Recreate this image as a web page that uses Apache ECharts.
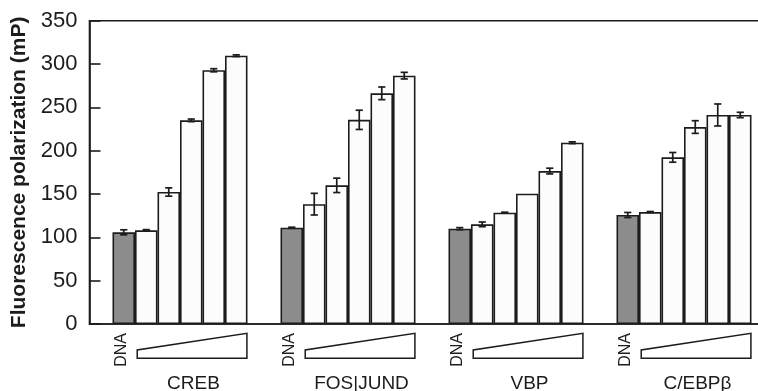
<!DOCTYPE html>
<html>
<head>
<meta charset="utf-8">
<script src="https://cdn.jsdelivr.net/npm/echarts@6/dist/echarts.min.js"></script>
<style>html,body{margin:0;padding:0;background:#fff}#c{width:758px;height:391px}</style>
</head>
<body>
<div id="c"></div>
<script>
// ---- data ----
const categories = ['CREB', 'FOS|JUND', 'VBP', 'C/EBPβ'];
const dnaValues = [105.8, 111.1, 110.0, 125.8];
const dnaErrors = [2.9, 0.6, 1.2, 2.9];
const conc1Values = [108.1, 138.3, 115.0, 129.2];
const conc1Errors = [0.8, 12.5, 2.7, 0.6];
const conc2Values = [152.3, 160.0, 128.5, 192.3];
const conc2Errors = [4.8, 8.3, 0.5, 5.6];
const conc3Values = [235.0, 235.6, 150.4, 227.3];
const conc3Errors = [1.5, 11.1, 0, 7.3];
const conc4Values = [292.8, 266.2, 176.5, 241.2];
const conc4Errors = [1.8, 7.3, 3.3, 12.7];
const conc5Values = [309.6, 286.6, 209.2, 241.2];
const conc5Errors = [1.0, 3.8, 1.0, 3.1];
const yMin = 0, yMax = 350, yStep = 50;
const yTitle = 'Fluorescence polarization (mP)';
const dnaLabel = 'DNA';

// ---- layout (fractions of a category band) ----
const BAR = 22.5 / 168;
const SPACER = 13 / 168;
const MARGIN = (1 - SPACER - 6 * BAR) / 2;

const allValues = [dnaValues, conc1Values, conc2Values, conc3Values, conc4Values, conc5Values];
const allErrors = [dnaErrors, conc1Errors, conc2Errors, conc3Errors, conc4Errors, conc5Errors];

const errData = [];
allValues.forEach((vals, s) => vals.forEach((v, c) => errData.push([c, s, v, allErrors[s][c]])));

const FONT = '"Liberation Sans", Arial, Helvetica, sans-serif';
const INK = '#1c1c1c';

const barStyle = (fill) => ({ color: fill, borderColor: INK, borderWidth: 1.6 });

const series = [{
  type: 'bar', name: 'spacer', data: categories.map(() => 0), barWidth: (SPACER * 100) + '%',
  barGap: '0%', itemStyle: { color: 'transparent', borderWidth: 0 }, silent: true
}, {
  type: 'bar', name: 'DNA', data: dnaValues, barWidth: (BAR * 100) + '%', barGap: '0%',
  itemStyle: barStyle('#8c8c8c'),
  label: {
    show: true, formatter: dnaLabel, position: ['50%', '100%'], rotate: 90,
    align: 'right', verticalAlign: 'middle', offset: [-9, -2],
    fontSize: 16, fontFamily: FONT, color: INK
  }
}];
[conc1Values, conc2Values, conc3Values, conc4Values, conc5Values].forEach((vals, i) => {
  series.push({
    type: 'bar', name: 'c' + (i + 1), data: vals, barWidth: (BAR * 100) + '%', barGap: '0%',
    itemStyle: barStyle('#fcfcfc')
  });
});

series.push({
  type: 'custom', name: 'err', data: errData, encode: { x: 0, y: 2 }, z: 5, clip: false,
  renderItem: function (params, api) {
    const c = api.value(0), s = api.value(1), v = api.value(2), e = api.value(3);
    const base = api.coord([c, 0]);
    const bw = api.size([1, 0])[0];
    const x = base[0] - bw / 2 + (MARGIN + SPACER + (s + 0.5) * BAR) * bw;
    if (!e) return null;
    const y1 = api.coord([c, v + e])[1];
    const y2 = api.coord([c, v - e])[1];
    const cap = 3.6;
    const st = { stroke: INK, lineWidth: 1.7 };
    return {
      type: 'group', children: [
        { type: 'line', shape: { x1: x, y1: y1, x2: x, y2: y2 }, style: st },
        { type: 'line', shape: { x1: x - cap, y1: y1, x2: x + cap, y2: y1 }, style: st },
        { type: 'line', shape: { x1: x - cap, y1: y2, x2: x + cap, y2: y2 }, style: st }
      ]
    };
  }
});

series.push({
  type: 'custom', name: 'wedge', data: categories.map((_, i) => [i, 0]), encode: { x: 0, y: 1 },
  clip: false, silent: true,
  renderItem: function (params, api) {
    const c = api.value(0);
    const base = api.coord([c, 0]);
    const bw = api.size([1, 0])[0];
    const x0 = base[0] - bw / 2;
    const y0 = base[1];
    const xl = x0 + 0.284 * bw, xr = x0 + 0.937 * bw;
    return {
      type: 'polygon',
      shape: { points: [[xl, y0 + 34.3], [xr, y0 + 34.3], [xr, y0 + 9.3], [xl, y0 + 26]] },
      style: { fill: '#fff', stroke: INK, lineWidth: 1.5 }
    };
  }
});

const chart = echarts.init(document.getElementById('c'), null, { renderer: 'canvas' });
chart.setOption({
  animation: false,
  backgroundColor: '#fff',
  textStyle: { fontFamily: FONT },
  grid: {
    left: 89.5, top: 20.7, right: -3.5, bottom: 67, show: true,
    containLabel: false, outerBoundsMode: 'none',
    borderColor: INK, borderWidth: 1.6, backgroundColor: 'transparent'
  },
  xAxis: {
    type: 'category', data: categories,
    axisLine: { show: true, lineStyle: { color: INK, width: 1.6 } },
    axisTick: { show: false },
    axisLabel: {
      fontSize: 19, color: INK, fontFamily: FONT, margin: 50,
      padding: [0, 0, 0, 40], interval: 0
    },
    splitLine: { show: false }
  },
  yAxis: {
    type: 'value', min: yMin, max: yMax, interval: yStep,
    name: yTitle, nameLocation: 'middle', nameGap: 52,
    nameTextStyle: { fontSize: 21, fontWeight: 'bold', color: INK, fontFamily: FONT },
    axisLine: { show: true, lineStyle: { color: INK, width: 1.6 } },
    axisTick: { show: true, inside: true, length: 11, lineStyle: { color: INK, width: 1.6 } },
    axisLabel: { fontSize: 22, color: INK, margin: 12, fontFamily: FONT },
    splitLine: { show: false }
  },
  series: series
});
</script>
</body>
</html>
